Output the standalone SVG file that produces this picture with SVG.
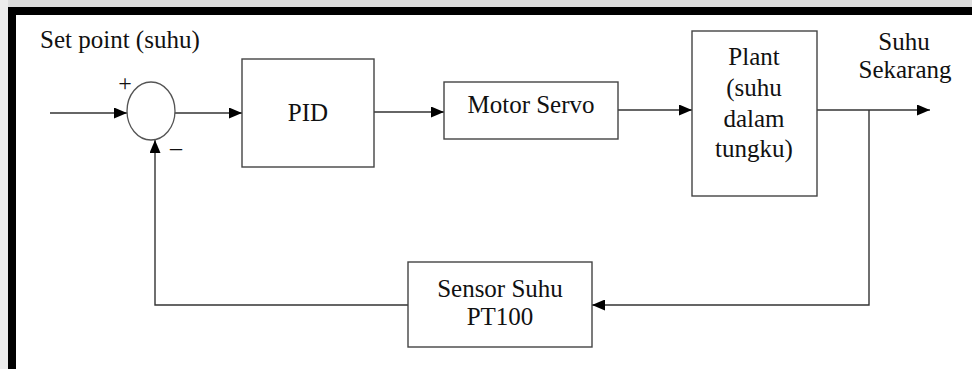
<svg xmlns="http://www.w3.org/2000/svg" width="972" height="369" viewBox="0 0 972 369">
<defs>
<style>
.t{font-family:'Liberation Serif','Tinos','Times New Roman','DejaVu Serif',serif;font-size:25px;fill:#111;}
.c{text-anchor:middle;}
.box{fill:#fff;stroke:#444;stroke-width:1.4;}
.ln{fill:none;stroke:#333;stroke-width:1.4;}
</style>
<marker id="ah" viewBox="0 0 13 11" refX="13" refY="5.5" markerWidth="13" markerHeight="11" markerUnits="userSpaceOnUse" orient="auto">
<path d="M0,0 L13,5.5 L0,11 Z" fill="#000"/>
</marker>
</defs>
<rect x="0" y="0" width="972" height="369" fill="#fff"/>
<rect x="0" y="0" width="972" height="7" fill="#dcdcdc"/>
<rect x="0" y="0" width="8" height="369" fill="#ececec"/>
<rect x="8" y="7" width="964" height="8" fill="#000"/>
<rect x="8" y="7" width="8" height="362" fill="#000"/>

<g id="connectors">
<line class="ln" x1="50" y1="113" x2="127" y2="113" marker-end="url(#ah)"/>
<line class="ln" x1="175" y1="113" x2="242" y2="113" marker-end="url(#ah)"/>
<line class="ln" x1="374" y1="112" x2="444" y2="112" marker-end="url(#ah)"/>
<line class="ln" x1="618" y1="110" x2="692" y2="110" marker-end="url(#ah)"/>
<line class="ln" x1="817" y1="110" x2="930" y2="110" marker-end="url(#ah)"/>
<polyline class="ln" points="869,110 869,305 592,305" marker-end="url(#ah)"/>
<polyline class="ln" points="408,305 155,305 155,140" marker-end="url(#ah)"/>
</g>

<g id="setpoint-label"><text class="t" font-family="Liberation Serif, serif" x="40" y="48">Set point (suhu)</text></g>

<g id="sum">
<ellipse cx="151" cy="111" rx="24" ry="29" fill="#fff" stroke="#555" stroke-width="1.3"/>
<text class="t c" font-family="Liberation Serif, serif" x="125" y="91" style="font-size:24px">+</text>
<text class="t c" font-family="Liberation Serif, serif" x="176" y="155" style="font-size:24px">–</text>
</g>

<g id="pid">
<rect class="box" x="242" y="59" width="132" height="108"/>
<text class="t c" font-family="Liberation Serif, serif" x="308" y="121">PID</text>
</g>

<g id="motor">
<rect class="box" x="444" y="82" width="174" height="57"/>
<text class="t c" font-family="Liberation Serif, serif" x="531" y="113">Motor Servo</text>
</g>

<g id="plant">
<rect class="box" x="692" y="31" width="125" height="165"/>
<text class="t c" font-family="Liberation Serif, serif" x="754" y="65">Plant</text>
<text class="t c" font-family="Liberation Serif, serif" x="754" y="96">(suhu</text>
<text class="t c" font-family="Liberation Serif, serif" x="754" y="127">dalam</text>
<text class="t c" font-family="Liberation Serif, serif" x="754" y="157">tungku)</text>
</g>

<g id="output-label">
<text class="t c" font-family="Liberation Serif, serif" x="904" y="50">Suhu</text>
<text class="t c" font-family="Liberation Serif, serif" x="905" y="78">Sekarang</text>
</g>

<g id="sensor">
<rect class="box" x="408" y="262" width="184" height="85"/>
<text class="t c" font-family="Liberation Serif, serif" x="500" y="297">Sensor Suhu</text>
<text class="t c" font-family="Liberation Serif, serif" x="500" y="325">PT100</text>
</g>
</svg>
